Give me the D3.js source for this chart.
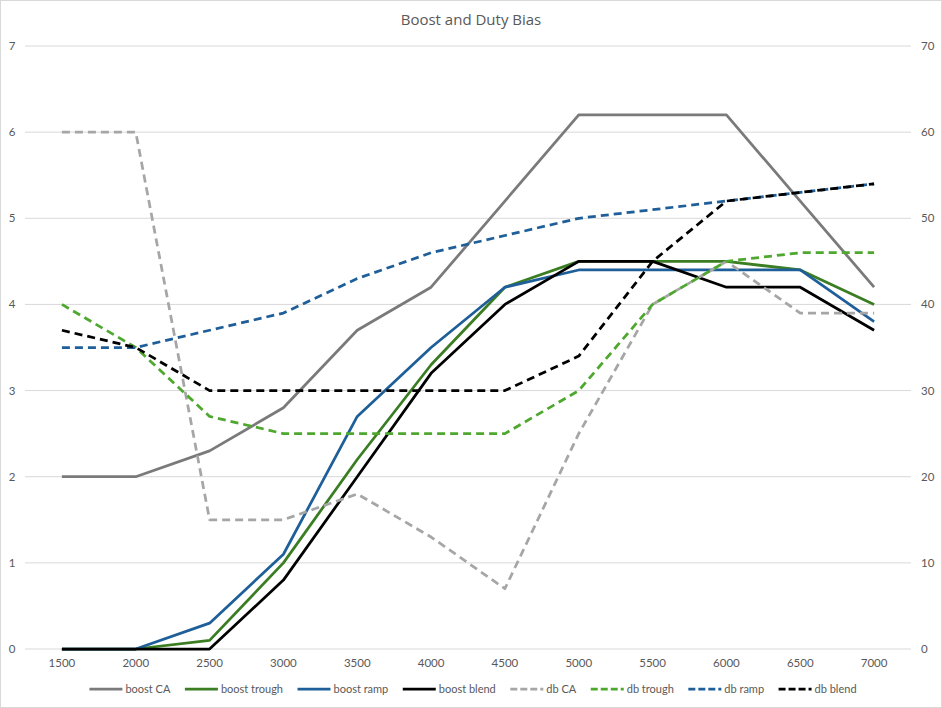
<!DOCTYPE html>
<html><head><meta charset="utf-8">
<script src="https://cdn.jsdelivr.net/npm/d3@7"></script>
<style>body{margin:0;background:#fff}svg{display:block;font-family:"Open Sans",Inter,sans-serif}</style>
</head><body>
<script>
const categories = [1500,2000,2500,3000,3500,4000,4500,5000,5500,6000,6500,7000];
const boostCA     = [2, 2, 2.3, 2.8, 3.7, 4.2, 5.2, 6.2, 6.2, 6.2, 5.2, 4.2];
const boostTrough = [0, 0, 0.1, 1.0, 2.2, 3.3, 4.2, 4.5, 4.5, 4.5, 4.4, 4.0];
const boostRamp   = [0, 0, 0.3, 1.1, 2.7, 3.5, 4.2, 4.4, 4.4, 4.4, 4.4, 3.8];
const boostBlend  = [0, 0, 0, 0.8, 2.0, 3.2, 4.0, 4.5, 4.5, 4.2, 4.2, 3.7];
const dbCA        = [60, 60, 15, 15, 18, 13, 7, 25, 40, 45, 39, 39];
const dbTrough    = [40, 35, 27, 25, 25, 25, 25, 30, 40, 45, 46, 46];
const dbRamp      = [35, 35, 37, 39, 43, 46, 48, 50, 51, 52, 53, 54];
const dbBlend     = [37, 35, 30, 30, 30, 30, 30, 34, 45, 52, 53, 54];
const leftTicks  = [0,1,2,3,4,5,6,7];
const rightTicks = [0,10,20,30,40,50,60,70];

const series = [
  {name:"boost CA",    values:boostCA,     axis:"L", color:"#7a7a7a", dash:null},
  {name:"boost trough",values:boostTrough, axis:"L", color:"#3a7d22", dash:null},
  {name:"boost ramp",  values:boostRamp,   axis:"L", color:"#1f5f99", dash:null},
  {name:"boost blend", values:boostBlend,  axis:"L", color:"#000000", dash:null},
  {name:"db CA",       values:dbCA,        axis:"R", color:"#a6a6a6", dash:"8,5"},
  {name:"db trough",   values:dbTrough,    axis:"R", color:"#4ea72e", dash:"8,5"},
  {name:"db ramp",     values:dbRamp,      axis:"R", color:"#1f5f99", dash:"8,5"},
  {name:"db blend",    values:dbBlend,     axis:"R", color:"#000000", dash:"8,5"}
];

const W=942,H=708;
const svg=d3.select("body").append("svg").attr("width",W).attr("height",H);
svg.append("rect").attr("x",0.5).attr("y",0.5).attr("width",W-1).attr("height",H-1)
  .attr("fill","#fff").attr("stroke","#d9d9d9");

const x=d3.scaleBand().domain(categories).range([25,911]);
const yL=d3.scaleLinear().domain([0,7]).range([649,46]);
const yR=d3.scaleLinear().domain([0,70]).range([649,46]);

svg.append("g").selectAll("line").data(leftTicks).join("line")
  .attr("x1",25).attr("x2",911).attr("y1",d=>yL(d)).attr("y2",d=>yL(d))
  .attr("stroke","#d9d9d9").attr("stroke-width",1);

const tc="#595959";
const lf="Lato, 'Open Sans', sans-serif";
svg.append("g").selectAll("text").data(leftTicks).join("text")
  .attr("x",12).attr("y",d=>yL(d)).attr("dy","0.35em").attr("text-anchor","middle")
  .attr("font-size",11.5).attr("font-family",lf).attr("fill",tc).text(d=>d);
svg.append("g").selectAll("text").data(rightTicks).join("text")
  .attr("x",921).attr("y",d=>yR(d)).attr("dy","0.35em").attr("text-anchor","start")
  .attr("font-size",11.5).attr("font-family",lf).attr("fill",tc).text(d=>d);
svg.append("g").selectAll("text").data(categories).join("text")
  .attr("x",d=>x(d)+x.bandwidth()/2).attr("y",663).attr("dy","0.35em").attr("text-anchor","middle")
  .attr("font-size",11.5).attr("font-family",lf).attr("fill",tc).text(d=>d);

svg.append("text").attr("x",471).attr("y",20).attr("dy","0.35em").attr("text-anchor","middle")
  .attr("font-size",15).attr("fill",tc).text("Boost and Duty Bias");

const plot=svg.append("g");
series.forEach(s=>{
  const ys=s.axis==="L"?yL:yR;
  const line=d3.line().x((d,i)=>x(categories[i])+x.bandwidth()/2).y(d=>ys(d));
  plot.append("path").datum(s.values).attr("d",line).attr("fill","none")
    .attr("stroke",s.color).attr("stroke-width",2.75).attr("stroke-linejoin","round")
    .attr("stroke-dasharray",s.dash);
});

const lg=svg.append("g");
const items=[];
series.forEach(s=>{
  const g=lg.append("g");
  g.append("line").attr("x1",0).attr("x2",33).attr("y1",0).attr("y2",0)
    .attr("stroke",s.color).attr("stroke-width",2.75).attr("stroke-dasharray",s.dash?"7,3":null);
  const t=g.append("text").attr("x",36).attr("dy","0.35em").attr("font-size",11)
    .attr("font-family",lf).attr("fill",tc).text(s.name);
  const w=36+t.node().getComputedTextLength();
  items.push({g,w});
});
const gap=14.5;
const total=d3.sum(items,d=>d.w)+gap*(items.length-1);
let pos=473-total/2;
items.forEach(it=>{it.g.attr("transform",`translate(${pos},689)`);pos+=it.w+gap;});
</script>
</body></html>
